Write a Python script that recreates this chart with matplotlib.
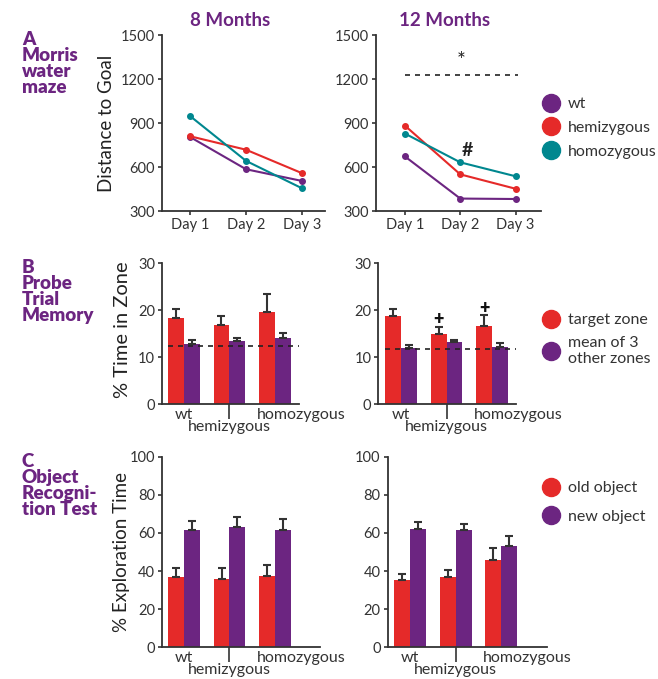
import matplotlib.pyplot as plt
from matplotlib.lines import Line2D
import numpy as np

plt.rcParams['font.family'] = ['Lato', 'DejaVu Sans']

RED = '#E52A29'
PURPLE = '#6C2581'
TEAL = '#00878F'
GREY = '#333333'

days = [1, 2, 3]
day_labels = ['Day 1', 'Day 2', 'Day 3']
genotypes = ['wt', 'hemizygous', 'homozygous']

# A: Morris water maze, distance to goal
mwm_8_wt = [805, 585, 505]
mwm_8_hemi = [810, 718, 558]
mwm_8_homo = [948, 642, 455]
mwm_12_wt = [672, 385, 382]
mwm_12_hemi = [882, 550, 452]
mwm_12_homo = [828, 632, 537]
mwm_12_sig = 1228

# B: probe trial, % time in zone (mean and upper error)
probe_8_target = [18.3, 16.8, 19.6]
probe_8_target_err = [2.0, 2.0, 3.8]
probe_8_other = [12.8, 13.4, 14.1]
probe_8_other_err = [0.8, 0.8, 1.1]
probe_8_chance = 12.5
probe_12_target = [18.8, 15.0, 16.7]
probe_12_target_err = [1.5, 1.4, 2.2]
probe_12_other = [12.0, 13.3, 12.2]
probe_12_other_err = [0.7, 0.4, 0.9]
probe_12_chance = 11.8
probe_12_plus_idx = [1, 2]
probe_12_plus_y = [18.1, 20.3]

# C: object recognition, % exploration time
obj_8_old = [37.0, 35.8, 37.4]
obj_8_old_err = [4.8, 6.0, 5.9]
obj_8_new = [61.5, 63.0, 61.5]
obj_8_new_err = [4.9, 5.4, 5.8]
obj_12_old = [35.3, 36.9, 45.8]
obj_12_old_err = [3.3, 3.5, 6.3]
obj_12_new = [61.9, 61.5, 53.1]
obj_12_new_err = [3.8, 3.3, 5.5]

fig = plt.figure(figsize=(6.58, 6.79), dpi=100)


def style(ax):
    for s in ['top', 'right']:
        ax.spines[s].set_visible(False)
    for s in ['left', 'bottom']:
        ax.spines[s].set_color(GREY)
        ax.spines[s].set_linewidth(1.3)
    ax.tick_params(colors=GREY, labelsize=10.5, width=1.2, length=3, pad=2)


def line_panel(ax, wt, hemi, homo):
    ax.plot(days, wt, color=PURPLE, marker='o', ms=4, lw=1.5)
    ax.plot(days, hemi, color=RED, marker='o', ms=4, lw=1.5)
    ax.plot(days, homo, color=TEAL, marker='o', ms=4, lw=1.5)
    ax.set_ylim(300, 1500)
    ax.set_yticks([300, 600, 900, 1200, 1500])
    ax.set_xticks(days, day_labels)
    style(ax)


def bar_panel(ax, a, a_err, b, b_err, ylim, yticks):
    x = np.arange(len(genotypes))
    w = 0.35
    ekw = dict(ecolor=GREY, elinewidth=1.5, capsize=3, capthick=1.5)
    ax.bar(x - w / 2, a, w, color=RED, yerr=[np.zeros(3), a_err], error_kw=ekw)
    ax.bar(x + w / 2, b, w, color=PURPLE, yerr=[np.zeros(3), b_err], error_kw=ekw)
    ax.set_ylim(*ylim)
    ax.set_yticks(yticks)
    style(ax)
    ax.set_xticks([1])
    ax.tick_params(axis='x', length=11, labelbottom=False)
    for i, g in enumerate(genotypes):
        if i == 1:
            ax.annotate(g, (i, 0), xycoords=('data', 'axes fraction'),
                        xytext=(0, -16.5), textcoords='offset points',
                        ha='center', va='center', fontsize=11.5, color=GREY)
        elif i == 0:
            ax.annotate(g, (i, 0), xycoords=('data', 'axes fraction'),
                        xytext=(0, -8), textcoords='offset points',
                        ha='center', va='center', fontsize=11.5, color=GREY)
        else:
            ax.annotate(g, (i - 0.4, 0), xycoords=('data', 'axes fraction'),
                        xytext=(0, -8), textcoords='offset points',
                        ha='left', va='center', fontsize=11.5, color=GREY)
    return x, w


# --- A ---
axA8 = fig.add_axes([0.2462, 0.6892, 0.2477, 0.2592])
line_panel(axA8, mwm_8_wt, mwm_8_hemi, mwm_8_homo)
axA8.set_xlim(0.5, 3.41)
axA8.set_ylabel('Distance to Goal', fontsize=13.5, color='#222222')
axA8.yaxis.set_label_coords(-0.29, 0.5)

axA12 = fig.add_axes([0.5714, 0.6892, 0.2508, 0.2592])
line_panel(axA12, mwm_12_wt, mwm_12_hemi, mwm_12_homo)
axA12.set_xlim(0.476, 3.46)
axA12.plot([1, 3.05], [mwm_12_sig, mwm_12_sig], ls=(0, (3, 3)), color='#222222', lw=1.2)
axA12.text(2.02, mwm_12_sig + 95, '*', ha='center', va='center', fontsize=15, color='#222222')
axA12.text(2.13, mwm_12_sig - 515, '#', ha='center', va='center', fontsize=14,
           fontweight='bold', color='#222222')

# --- B ---
axB8 = fig.add_axes([0.2462, 0.4046, 0.2082, 0.2077])
bar_panel(axB8, probe_8_target, probe_8_target_err, probe_8_other, probe_8_other_err,
          (0, 30), [0, 10, 20, 30])
axB8.set_xlim(-0.484, 2.53)
axB8.plot([-0.35, 2.53], [probe_8_chance] * 2, ls=(0, (3, 3)), color='#222222', lw=1.2)
axB8.set_ylabel('% Time in Zone', fontsize=14.5, color='#222222')
axB8.yaxis.set_label_coords(-0.225, 0.53)

axB12 = fig.add_axes([0.5749, 0.4046, 0.2088, 0.2077])
x, w = bar_panel(axB12, probe_12_target, probe_12_target_err, probe_12_other,
                 probe_12_other_err, (0, 30), [0, 10, 20, 30])
axB12.set_xlim(-0.5, 2.52)
axB12.plot([-0.35, 2.52], [probe_12_chance] * 2, ls=(0, (3, 3)), color='#222222', lw=1.2)
for i, yv in zip(probe_12_plus_idx, probe_12_plus_y):
    axB12.text(x[i] - w / 2, yv, '+', ha='center', va='center', fontsize=13,
               fontweight='heavy', color='#111111')

# --- C ---
axC8 = fig.add_axes([0.2462, 0.0467, 0.2401, 0.2807])
bar_panel(axC8, obj_8_old, obj_8_old_err, obj_8_new, obj_8_new_err,
          (0, 100), [0, 20, 40, 60, 80, 100])
axC8.set_xlim(-0.484, 2.99)
axC8.set_ylabel('% Exploration Time', fontsize=13.5, color='#222222')
axC8.yaxis.set_label_coords(-0.2, 0.5)

axC12 = fig.add_axes([0.5892, 0.0467, 0.2416, 0.2807])
bar_panel(axC12, obj_12_old, obj_12_old_err, obj_12_new, obj_12_new_err,
          (0, 100), [0, 20, 40, 60, 80, 100])
axC12.set_xlim(-0.49, 3.0)

# --- titles and section labels ---
fig.text(230 / 658, 1 - 20 / 679, '8 Months', ha='center', va='center',
         fontsize=13.5, fontweight='bold', color=PURPLE)
fig.text(445 / 658, 1 - 20 / 679, '12 Months', ha='center', va='center',
         fontsize=13.5, fontweight='bold', color=PURPLE)
section_kw = dict(ha='left', va='top', fontsize=13.5, fontweight='heavy',
                  color=PURPLE, linespacing=0.93)
fig.text(22 / 658, 1 - 31 / 679, 'A\nMorris\nwater\nmaze', **section_kw)
fig.text(22 / 658, 1 - 259 / 679, 'B\nProbe\nTrial\nMemory', **section_kw)
fig.text(22 / 658, 1 - 453 / 679, 'C\nObject\nRecogni-\ntion Test', **section_kw)


# --- legends ---
def dot(c):
    return Line2D([], [], ls='none', marker='o', ms=13, color=c)


leg_kw = dict(loc='upper left', frameon=False, fontsize=11.5, handlelength=1.0,
              handletextpad=0.55, borderpad=0, borderaxespad=0, labelcolor=GREY)
fig.legend([dot(PURPLE), dot(RED), dot(TEAL)], genotypes,
           bbox_to_anchor=(543 / 658, 1 - 97 / 679), labelspacing=0.6, **leg_kw)
fig.legend([dot(RED), dot(PURPLE)], ['target zone', 'mean of 3\nother zones'],
           bbox_to_anchor=(543 / 658, 1 - 313 / 679), labelspacing=0.55, **leg_kw)
fig.legend([dot(RED), dot(PURPLE)], ['old object', 'new object'],
           bbox_to_anchor=(543 / 658, 1 - 481 / 679), labelspacing=0.9, **leg_kw)

fig.savefig('out.png', dpi=100)
